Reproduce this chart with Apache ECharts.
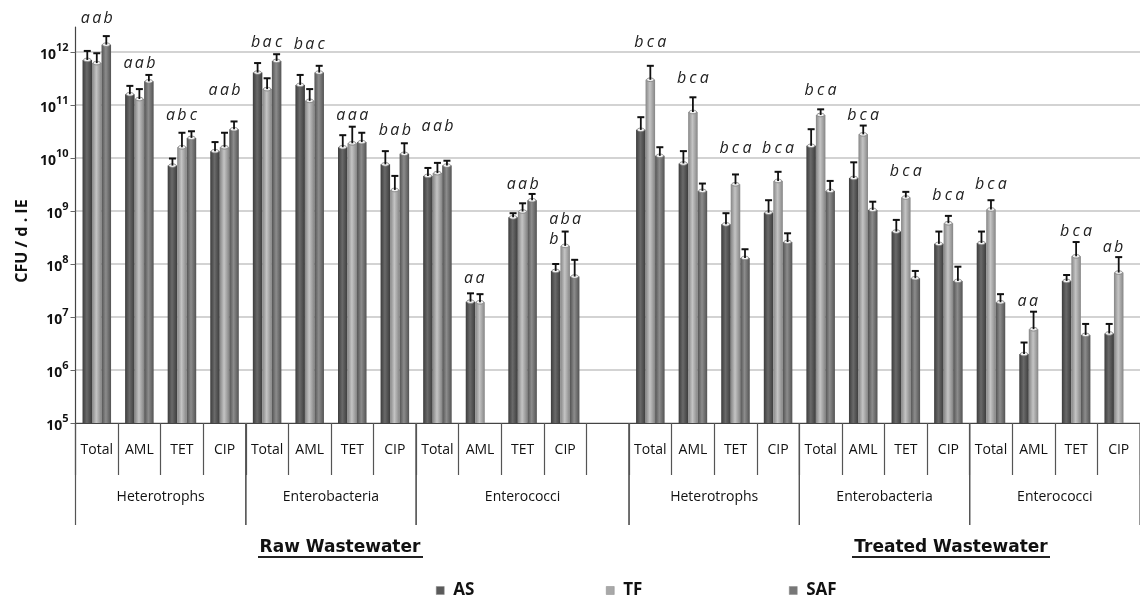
<!DOCTYPE html>
<html>
<head>
<meta charset="utf-8">
<script src="https://cdn.jsdelivr.net/npm/echarts@6/dist/echarts.min.js"></script>
<style>
    html, body { margin: 0; padding: 0; background: #fff; }
    #chart { width: 1140px; height: 598px; }
</style>
</head>
<body>
<div id="chart"></div>
<script>
    // x categories: raw wastewater (12), one empty spacer slot, treated wastewater (12)
    var categories = [
        'Total', 'AML', 'TET', 'CIP', 'Total', 'AML', 'TET', 'CIP', 'Total', 'AML', 'TET', 'CIP',
        '',
        'Total', 'AML', 'TET', 'CIP', 'Total', 'AML', 'TET', 'CIP', 'Total', 'AML', 'TET', 'CIP'
    ];
    // bacteria groups: [first category, last category, name]
    var groups = [
        [0, 3, 'Heterotrophs'], [4, 7, 'Enterobacteria'], [8, 12, 'Enterococci'],
        [13, 16, 'Heterotrophs'], [17, 20, 'Enterobacteria'], [21, 24, 'Enterococci']
    ];
    var seriesNames = ['AS', 'TF', 'SAF'];

    // CFU / d . IE  (mean values)
    var asVals = [7.1e11, 1.6e11, 7.2e9, 1.35e10, 4.1e11, 2.4e11, 1.6e10, 7.6e9, 4.6e9, 1.95e7, 7.6e8, 7.4e7,
        null,
        3.4e10, 7.9e9, 5.6e8, 9.3e8, 1.7e10, 4.2e9, 4.1e8, 2.4e8, 2.5e8, 2.0e6, 4.8e7, 4.9e6];
    var tfVals = [6.2e11, 1.3e11, 1.6e10, 1.6e10, 2.0e11, 1.2e11, 1.9e10, 2.5e9, 5.2e9, 1.9e7, 9.8e8, 2.2e8,
        null,
        3.0e11, 7.4e10, 3.2e9, 3.7e9, 6.5e10, 2.8e10, 1.8e9, 5.9e8, 1.07e9, 5.9e6, 1.4e8, 6.9e7];
    var safVals = [1.38e12, 2.8e11, 2.4e10, 3.5e10, 6.8e11, 4.1e11, 2.0e10, 1.2e10, 7.2e9, null, 1.6e9, 5.8e7,
        null,
        1.1e10, 2.4e9, 1.3e8, 2.6e8, 2.4e9, 1.05e9, 5.4e7, 4.8e7, 1.9e7, null, 4.6e6, null];

    // upper end of the error bars
    var asErr = [1.05e12, 2.3e11, 9.8e9, 2.0e10, 6.2e11, 3.7e11, 2.7e10, 1.35e10, 6.5e9, 2.8e7, 9.1e8, 1.0e8,
        null,
        5.9e10, 1.35e10, 9.1e8, 1.6e9, 3.5e10, 8.3e9, 6.8e8, 4.1e8, 4.1e8, 3.3e6, 6.2e7, 7.4e6];
    var tfErr = [9.5e11, 2.0e11, 3.0e10, 3.0e10, 3.2e11, 2.0e11, 3.9e10, 4.6e9, 8.1e9, 2.7e7, 1.4e9, 4.1e8,
        null,
        5.5e11, 1.4e11, 4.9e9, 5.5e9, 8.3e10, 4.1e10, 2.3e9, 8.1e8, 1.6e9, 1.26e7, 2.6e8, 1.35e8];
    var safErr = [2.0e12, 3.7e11, 3.2e10, 4.9e10, 9.1e11, 5.5e11, 3.0e10, 1.9e10, 8.9e9, null, 2.1e9, 1.2e8,
        null,
        1.6e10, 3.3e9, 1.9e8, 3.8e8, 3.7e9, 1.5e9, 7.4e7, 8.9e7, 2.7e7, null, 7.4e6, null];

    // significance letters (one per bar) and the level they sit at
    var letters = ['aab', 'aab', 'abc', 'aab', 'bac', 'bac', 'aaa', 'bab', 'aab', 'aa', 'aab', 'aba',
        '',
        'bca', 'bca', 'bca', 'bca', 'bca', 'bca', 'bca', 'bca', 'bca', 'aa', 'bca', 'ab'];
    var letterAt = [4.4e12, 6.2e11, 6.5e10, 1.9e11, 1.5e12, 1.4e12, 6.5e10, 3.3e10, 4.0e10, 5.4e7, 3.2e9, 6.8e8,
        null,
        1.55e12, 3.2e11, 1.5e10, 1.5e10, 1.9e11, 6.5e10, 5.5e9, 1.95e9, 3.2e9, 1.95e7, 4.1e8, 2.1e8];
    // stray extra letter: [category, bar, level, text]
    var extraLetters = [[11, 0, 2.95e8, 'b']];

    var yTicks = [1e5, 1e6, 1e7, 1e8, 1e9, 1e10, 1e11, 1e12];

    var GAP = 0.33;
    var FONT = '"Open Sans", "Noto Sans", sans-serif';

    function grad(edge, mid) {
        return new echarts.graphic.LinearGradient(0, 0, 1, 0, [
            {offset: 0, color: edge}, {offset: 0.45, color: mid}, {offset: 1, color: edge}
        ]);
    }
    var colors = [grad('#3c3c3c', '#6a6a6a'), grad('#858585', '#c4c4c4'), grad('#535353', '#8c8c8c')];
    var legendColors = ['#5a5a5a', '#a8a8a8', '#777777'];

    function catWidth(api) {
        return api.coord([1, 1e6])[0] - api.coord([0, 1e6])[0];
    }

    var vals = [asVals, tfVals, safVals];
    var errs = [asErr, tfErr, safErr];

    // error bar items
    var errData = [];
    for (var s = 0; s < 3; s++) {
        for (var i = 0; i < categories.length; i++) {
            if (vals[s][i] != null) errData.push([i, s, vals[s][i], errs[s][i]]);
        }
    }

    // letter items: [category, bar, level, text]
    var letterItems = [];
    for (var i = 0; i < categories.length; i++) {
        for (var k = 0; k < letters[i].length; k++) {
            letterItems.push([i, k, letterAt[i], letters[i].charAt(k)]);
        }
    }
    extraLetters.forEach(function (e) { letterItems.push(e); });

    var chart = echarts.init(document.getElementById('chart'));

    var series = seriesNames.map(function (name, s) {
        return {
            name: name,
            type: 'bar',
            data: vals[s],
            barGap: '0%',
            barCategoryGap: (GAP * 100) + '%',
            clip: true,
            itemStyle: {color: colors[s]},
            z: 2
        };
    });

    // error bars + cylinder tops
    series.push({
        type: 'custom',
        data: errData,
        encode: {x: 0, y: 2},
        z: 5,
        silent: true,
        renderItem: function (params, api) {
            var cat = api.value(0), s = api.value(1);
            var bw = catWidth(api) * (1 - GAP) / 3;
            var base = api.coord([cat, api.value(2)]);
            var top = api.coord([cat, api.value(3)]);
            var x = base[0] + (s - 1) * bw;
            return {
                type: 'group',
                children: [
                    {type: 'ellipse', shape: {cx: x, cy: base[1], rx: bw / 2 - 1, ry: 1.8},
                        style: {fill: '#f2f2f2', stroke: '#777', lineWidth: 0.8}},
                    {type: 'line', shape: {x1: x, y1: base[1], x2: x, y2: top[1]},
                        style: {stroke: '#111', lineWidth: 1.8}},
                    {type: 'line', shape: {x1: x - 3.5, y1: top[1], x2: x + 3.5, y2: top[1]},
                        style: {stroke: '#111', lineWidth: 2}}
                ]
            };
        }
    });

    // letters
    series.push({
        type: 'custom',
        data: letterItems.map(function (it) { return [it[0], it[2]]; }),
        encode: {x: 0, y: 1},
        z: 6,
        silent: true,
        renderItem: function (params, api) {
            var it = letterItems[params.dataIndex];
            var bw = catWidth(api) * (1 - GAP) / 3;
            var p = api.coord([it[0], it[2]]);
            return {
                type: 'text',
                x: p[0] + (it[1] - 1) * bw * 1.2,
                y: p[1],
                style: {
                    text: it[3], fill: '#222', fontSize: 16, fontStyle: 'italic',
                    fontFamily: FONT, align: 'center', verticalAlign: 'middle'
                }
            };
        }
    });

    // group labels with long separators
    series.push({
        type: 'custom',
        data: groups.map(function (g) { return [g[0], g[1], 1e5]; }),
        encode: {x: [0, 1], y: 2},
        z: 6,
        silent: true,
        renderItem: function (params, api) {
            var g = groups[params.dataIndex];
            var cw = catWidth(api);
            var p0 = api.coord([g[0], 1e5]);
            var x0 = p0[0] - cw / 2;
            var x1 = api.coord([g[1], 1e5])[0] + cw / 2;
            var y0 = p0[1];
            return {
                type: 'group',
                children: [
                    {type: 'line', shape: {x1: x0, y1: y0, x2: x0, y2: y0 + 102},
                        style: {stroke: '#555', lineWidth: 1.2}},
                    {type: 'line', shape: {x1: x1, y1: y0, x2: x1, y2: y0 + 102},
                        style: {stroke: '#555', lineWidth: 1.2}},
                    {type: 'text', x: (x0 + x1) / 2, y: y0 + 74,
                        style: {text: g[2], fill: '#111', fontSize: 14, fontFamily: FONT,
                            align: 'center', verticalAlign: 'middle'}}
                ]
            };
        }
    });

    function legendAt(s, left) {
        return {
            data: [seriesNames[s]], left: left, top: 577,
            icon: 'rect', itemWidth: 8, itemHeight: 8,
            itemStyle: {color: legendColors[s], borderColor: '#888', borderWidth: 0.5},
            textStyle: {fontSize: 17, fontWeight: 'bold', color: '#111', fontFamily: FONT, padding: [0, 0, 0, 4]},
            selectedMode: false
        };
    }

    chart.setOption({
        animation: false,
        backgroundColor: '#fff',
        grid: {left: 75.5, top: 27, width: 1075, bottom: 175, containLabel: false},
        legend: [legendAt(0, 431), legendAt(1, 601), legendAt(2, 784)],
        xAxis: {
            type: 'category',
            data: categories,
            boundaryGap: true,
            axisLine: {lineStyle: {color: '#444', width: 1.2}},
            axisTick: {show: true, interval: 0, length: 52, lineStyle: {color: '#555', width: 1.2}},
            axisLabel: {interval: 0, margin: 20, fontSize: 14, color: '#111', fontFamily: FONT},
            splitLine: {show: false}
        },
        yAxis: {
            type: 'log',
            logBase: 10,
            min: yTicks[0],
            max: 2.97e12,
            splitNumber: 8,
            axisLine: {show: true, lineStyle: {color: '#444', width: 1.2}},
            axisTick: {show: true, length: 5, lineStyle: {color: '#666'}},
            splitLine: {show: true, showMaxLine: false, lineStyle: {color: '#c4c4c4', width: 1.6}},
            axisLabel: {
                showMaxLabel: false,
                margin: 7,
                formatter: function (v) {
                    var e = Math.round(Math.log(v) / Math.LN10);
                    if (yTicks.indexOf(Math.pow(10, e)) < 0 || Math.abs(v / Math.pow(10, e) - 1) > 1e-6) return '';
                    return '{b|10}{s|' + e + '}';
                },
                rich: {
                    b: {fontSize: 14, fontWeight: 'bold', color: '#111', fontFamily: FONT, lineHeight: 20, verticalAlign: 'bottom'},
                    s: {fontSize: 11, fontWeight: 'bold', color: '#111', fontFamily: FONT, lineHeight: 20, verticalAlign: 'top'}
                }
            }
        },
        graphic: [
            {type: 'text', x: 22, y: 241, rotation: Math.PI / 2,
                style: {text: 'CFU / d . IE', fontSize: 16, fontWeight: 'bold', fill: '#111',
                    fontFamily: FONT, align: 'center', verticalAlign: 'middle'}},
            {type: 'text', x: 340, y: 548,
                style: {text: 'Raw Wastewater', fontSize: 17, fontWeight: 'bold', fill: '#111',
                    fontFamily: '"DejaVu Sans", sans-serif', align: 'center', verticalAlign: 'middle'}},
            {type: 'line', shape: {x1: 258, y1: 557, x2: 423, y2: 557}, style: {stroke: '#222', lineWidth: 2}},
            {type: 'text', x: 951, y: 548,
                style: {text: 'Treated Wastewater', fontSize: 17, fontWeight: 'bold', fill: '#111',
                    fontFamily: '"DejaVu Sans", sans-serif', align: 'center', verticalAlign: 'middle'}},
            {type: 'line', shape: {x1: 852, y1: 557, x2: 1050, y2: 557}, style: {stroke: '#222', lineWidth: 2}}
        ],
        series: series
    });
</script>
</body>
</html>
